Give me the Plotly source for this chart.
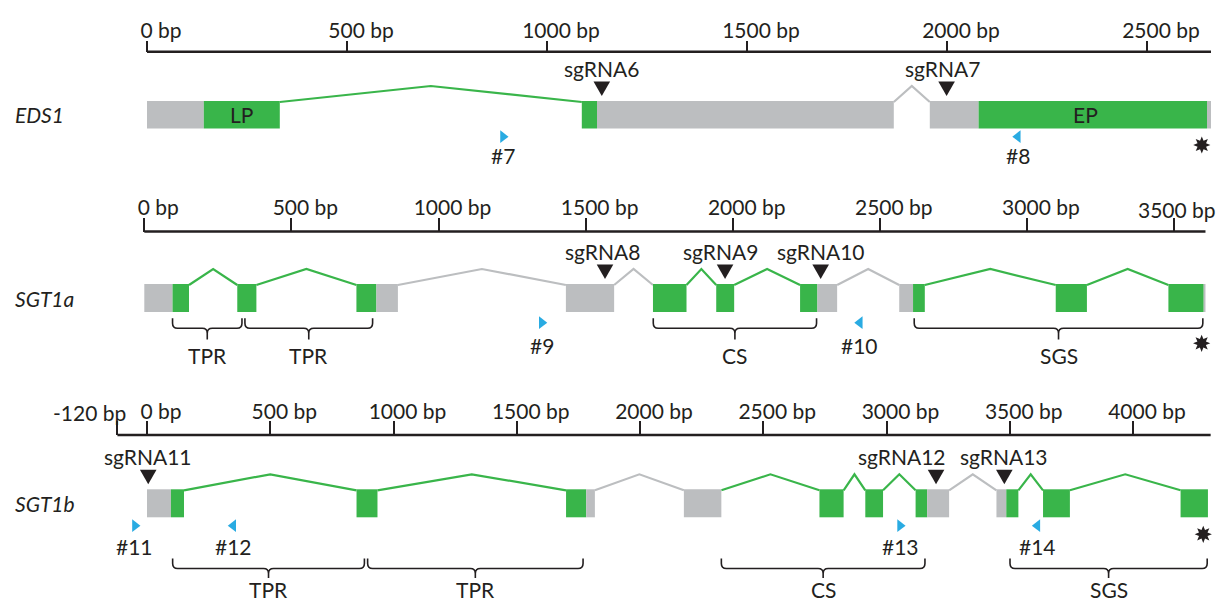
import math
import plotly.graph_objects as go

W, H = 1222, 604
INK = "#231f20"
GREEN = "#39b54a"
GREY = "#bcbec0"
CYAN = "#29abe2"
FONT = "Lato"
FS = 21

# ---------------- EDS1 ----------------
EDS1_AXIS = [0, 2660]
EDS1_TICKS = [0, 500, 1000, 1500, 2000, 2500]
EDS1_BLOCK_START = [0, 142, 1087, 1125, 1957, 2079, 2650]
EDS1_BLOCK_END = [142, 332, 1125, 1867, 2079, 2650, 2660]
EDS1_BLOCK_GREEN = [0, 1, 1, 0, 0, 1, 0]
EDS1_INTRON_GREEN = [1, 0]
EDS1_SGRNA = ["sgRNA6", "sgRNA7"]
EDS1_SGRNA_POS = [1137, 1999]
EDS1_PRIMER = ["#7", "#8"]
EDS1_PRIMER_POS = [890, 2177]
EDS1_PRIMER_FWD = [1, 0]
EDS1_END_MARK = 2637
EDS1_INNER_LABEL = ["LP", "EP"]
EDS1_INNER_LABEL_POS = [237, 2345]

# ---------------- SGT1a ----------------
SGT1A_AXIS = [0, 3607]
SGT1A_TICKS = [0, 500, 1000, 1500, 2000, 2500, 3000, 3500]
SGT1A_BLOCK_START = [0, 96, 316, 721, 789, 1433, 1729, 1944, 2229, 2288, 2566, 2613, 3098, 3481, 3601]
SGT1A_BLOCK_END = [96, 152, 381, 789, 862, 1597, 1843, 2005, 2288, 2355, 2613, 2653, 3204, 3601, 3607]
SGT1A_BLOCK_GREEN = [0, 1, 1, 1, 0, 0, 1, 1, 1, 0, 0, 1, 1, 1, 0]
SGT1A_INTRON_GREEN = [1, 1, 0, 0, 1, 1, 0, 1, 1]
SGT1A_SGRNA = ["sgRNA8", "sgRNA9", "sgRNA10"]
SGT1A_SGRNA_POS = [1566, 1974, 2299]
SGT1A_PRIMER = ["#9", "#10"]
SGT1A_PRIMER_POS = [1351, 2432]
SGT1A_PRIMER_FWD = [1, 0]
SGT1A_END_MARK = 3594
SGT1A_DOMAIN = ["TPR", "TPR", "CS", "SGS"]
SGT1A_DOMAIN_START = [96, 342, 1730, 2617]
SGT1A_DOMAIN_END = [332, 776, 2285, 3598]

# ---------------- SGT1b ----------------
SGT1B_AXIS = [-120, 4315]
SGT1B_TICKS = [-120, 0, 500, 1000, 1500, 2000, 2500, 3000, 3500, 4000]
SGT1B_BLOCK_START = [0, 97, 850, 1700, 1782, 2178, 2728, 2914, 3118, 3165, 3446, 3486, 3635, 4193]
SGT1B_BLOCK_END = [97, 150, 935, 1782, 1817, 2330, 2826, 2986, 3165, 3254, 3486, 3535, 3744, 4304]
SGT1B_BLOCK_GREEN = [0, 1, 1, 1, 0, 0, 1, 1, 1, 0, 0, 1, 1, 1]
SGT1B_INTRON_GREEN = [1, 1, 0, 1, 1, 1, 0, 1, 1]
SGT1B_SGRNA = ["sgRNA11", "sgRNA12", "sgRNA13"]
SGT1B_SGRNA_POS = [5, 3201, 3478]
SGT1B_PRIMER = ["#11", "#12", "#13", "#14"]
SGT1B_PRIMER_POS = [-49, 350, 3055, 3612]
SGT1B_PRIMER_FWD = [1, 0, 1, 0]
SGT1B_END_MARK = 4285
SGT1B_DOMAIN = ["TPR", "TPR", "CS", "SGS"]
SGT1B_DOMAIN_START = [104, 895, 2330, 3501]
SGT1B_DOMAIN_END = [882, 1769, 3156, 4301]

# ---------------- panel geometry (pixels) ----------------
PANELS = [
    dict(name="EDS1", axis=EDS1_AXIS, ticks=EDS1_TICKS,
         bs=EDS1_BLOCK_START, be=EDS1_BLOCK_END, bg=EDS1_BLOCK_GREEN, ig=EDS1_INTRON_GREEN,
         sg=EDS1_SGRNA, sgp=EDS1_SGRNA_POS, pr=EDS1_PRIMER, prp=EDS1_PRIMER_POS, prf=EDS1_PRIMER_FWD,
         end=EDS1_END_MARK, inner=EDS1_INNER_LABEL, innerp=EDS1_INNER_LABEL_POS,
         dom=[], ds=[], de=[], caption_fix={},
         origin=147.0, scale=0.4, axis_y=51.7, ticklen=11,
         bar=(101.0, 128.5), primer_y=136.7, primer_label_y=155.0, end_y=145.0),
    dict(name="SGT1a", axis=SGT1A_AXIS, ticks=SGT1A_TICKS,
         bs=SGT1A_BLOCK_START, be=SGT1A_BLOCK_END, bg=SGT1A_BLOCK_GREEN, ig=SGT1A_INTRON_GREEN,
         sg=SGT1A_SGRNA, sgp=SGT1A_SGRNA_POS, pr=SGT1A_PRIMER, prp=SGT1A_PRIMER_POS, prf=SGT1A_PRIMER_FWD,
         end=SGT1A_END_MARK, inner=[], innerp=[],
         dom=SGT1A_DOMAIN, ds=SGT1A_DOMAIN_START, de=SGT1A_DOMAIN_END,
         caption_fix={3500: ("center", 3)},
         origin=144.3, scale=0.2942, axis_y=231.5, ticklen=14,
         bar=(284.0, 312.0), primer_y=322.7, primer_label_y=345.0, end_y=343.3,
         brace=(318.3, 328.3, 339.5), brace_label_y=355.5),
    dict(name="SGT1b", axis=SGT1B_AXIS, ticks=SGT1B_TICKS,
         bs=SGT1B_BLOCK_START, be=SGT1B_BLOCK_END, bg=SGT1B_BLOCK_GREEN, ig=SGT1B_INTRON_GREEN,
         sg=SGT1B_SGRNA, sgp=SGT1B_SGRNA_POS, pr=SGT1B_PRIMER, prp=SGT1B_PRIMER_POS, prf=SGT1B_PRIMER_FWD,
         end=SGT1B_END_MARK, inner=[], innerp=[],
         dom=SGT1B_DOMAIN, ds=SGT1B_DOMAIN_START, de=SGT1B_DOMAIN_END,
         caption_fix={-120: ("right", 11)},
         origin=147.0, scale=0.2465, axis_y=435.0, ticklen=14,
         bar=(489.3, 517.3), primer_y=525.7, primer_label_y=546.3, end_y=534.3,
         brace=(558.5, 568.5, 578.0), brace_label_y=589.0),
]

# small horizontal nudges (px) for crowded sgRNA captions
SGRNA_LABEL_NUDGE = {"sgRNA7": -4, "sgRNA8": -3, "sgRNA9": -5, "sgRNA12": -34}

INTRON_RISE = 15
TRI_HALF_W, TRI_H, TRI_GAP = 8.3, 14.5, 5
TICK_LABEL_GAP = 22.5  # axis line to centre of tick captions


def fmt(v):
    return f"{v:.3f}"


fig = go.Figure()
shapes, annotations = [], []
layout_axes = {}

for i, p in enumerate(PANELS):
    ax = "x" if i == 0 else f"x{i + 1}"
    key = "xaxis" if i == 0 else f"xaxis{i + 1}"
    s = p["scale"]
    top, bot = p["bar"]

    def px2bp(d, s=s):
        return d / s

    fix = p["caption_fix"]
    ticktext = [("" if t in fix else f"{t} bp") for t in p["ticks"]]
    layout_axes[key] = dict(
        domain=[0, 1], range=[-p["origin"] / s, (W - p["origin"]) / s],
        anchor="free", position=1 - p["axis_y"] / H, side="top",
        showline=False, showgrid=False, zeroline=False, fixedrange=True,
        ticks="outside", ticklen=p["ticklen"], tickwidth=2, tickcolor=INK,
        tickvals=p["ticks"], ticktext=ticktext, ticklabelshift=14,
        ticklabelstandoff=-6,
        tickfont=dict(family=FONT, size=FS, color=INK),
    )
    # captions that sit against a neighbour or the page edge
    for t, (anchor, shift) in fix.items():
        annotations.append(dict(x=t, y=p["axis_y"] - TICK_LABEL_GAP, xref=ax, yref="y",
                                text=f"{t} bp", showarrow=False, xanchor=anchor,
                                yanchor="middle", xshift=shift,
                                font=dict(family=FONT, size=FS, color=INK)))

    # scale bar line
    shapes.append(dict(type="line", xref=ax, yref="y", x0=p["axis"][0], x1=p["axis"][1],
                       y0=p["axis_y"], y1=p["axis_y"], line=dict(color=INK, width=2.6)))

    # introns: a peaked connector between consecutive separated blocks
    k = 0
    for a in range(len(p["bs"]) - 1):
        e, n = p["be"][a], p["bs"][a + 1]
        if n > e:
            col = GREEN if p["ig"][k] else GREY
            fig.add_trace(go.Scatter(x=[e, (e + n) / 2, n], y=[top + 1, top - INTRON_RISE, top + 1],
                                     xaxis=ax, yaxis="y", mode="lines",
                                     line=dict(color=col, width=2.2), hoverinfo="skip",
                                     showlegend=False))
            k += 1

    # exon blocks
    for b0, b1, g in zip(p["bs"], p["be"], p["bg"]):
        shapes.append(dict(type="rect", xref=ax, yref="y", x0=b0, x1=b1, y0=top, y1=bot,
                           fillcolor=GREEN if g else GREY, line=dict(width=0)))

    # labels printed inside blocks
    for lab, pos in zip(p["inner"], p["innerp"]):
        annotations.append(dict(x=pos, y=(top + bot) / 2, xref=ax, yref="y", text=lab,
                                showarrow=False, font=dict(family=FONT, size=FS, color=INK)))

    # sgRNA target sites
    for lab, pos in zip(p["sg"], p["sgp"]):
        tip = top - TRI_GAP
        tt = tip - TRI_H
        hw = px2bp(TRI_HALF_W)
        shapes.append(dict(type="path", xref=ax, yref="y",
                           path=f"M{fmt(pos - hw)},{fmt(tt)} L{fmt(pos + hw)},{fmt(tt)} L{fmt(pos)},{fmt(tip)} Z",
                           fillcolor=INK, line=dict(width=0)))
        annotations.append(dict(x=pos, y=tt - 13, xref=ax, yref="y", text=lab, showarrow=False,
                                xshift=SGRNA_LABEL_NUDGE.get(lab, 0), yanchor="middle",
                                font=dict(family=FONT, size=FS, color=INK)))

    # primers
    fig.add_trace(go.Scatter(
        x=p["prp"], y=[p["primer_y"]] * len(p["prp"]), xaxis=ax, yaxis="y", mode="markers",
        marker=dict(symbol=["triangle-right" if f else "triangle-left" for f in p["prf"]],
                    size=11, color=CYAN, line=dict(width=0)),
        cliponaxis=False, hoverinfo="skip", showlegend=False))
    for lab, pos in zip(p["pr"], p["prp"]):
        annotations.append(dict(x=pos, y=p["primer_label_y"], xref=ax, yref="y", text=lab,
                                showarrow=False, yanchor="middle",
                                font=dict(family=FONT, size=FS, color=INK)))

    # eight-pointed end mark
    pts = []
    for j in range(16):
        r = 8.6 if j % 2 == 0 else 4.6
        a = math.pi / 2 + j * math.pi / 8
        pts.append((p["end"] + px2bp(r * math.cos(a)), p["end_y"] - r * math.sin(a)))
    path = "M" + " L".join(f"{fmt(x)},{fmt(y)}" for x, y in pts) + " Z"
    shapes.append(dict(type="path", xref=ax, yref="y", path=path, fillcolor=INK, line=dict(width=0)))

    # domain braces
    if p["dom"]:
        bt, bm, btip = p["brace"]
        r = 5
        rb = px2bp(5)
        for lab, d0, d1 in zip(p["dom"], p["ds"], p["de"]):
            xm = (d0 + d1) / 2
            path = (f"M{fmt(d0)},{bt} L{fmt(d0)},{bm - r} Q{fmt(d0)},{bm} {fmt(d0 + rb)},{bm} "
                    f"L{fmt(xm - rb)},{bm} Q{fmt(xm)},{bm} {fmt(xm)},{bm + r} L{fmt(xm)},{btip} "
                    f"M{fmt(xm)},{bm + r} Q{fmt(xm)},{bm} {fmt(xm + rb)},{bm} "
                    f"L{fmt(d1 - rb)},{bm} Q{fmt(d1)},{bm} {fmt(d1)},{bm - r} L{fmt(d1)},{bt}")
            shapes.append(dict(type="path", xref=ax, yref="y", path=path,
                               line=dict(color=INK, width=1.6)))
            annotations.append(dict(x=xm, y=p["brace_label_y"], xref=ax, yref="y", text=lab,
                                    showarrow=False, yanchor="middle", borderpad=0,
                                    font=dict(family=FONT, size=FS, color=INK)))

    # gene name
    annotations.append(dict(x=13 / W, y=(top + bot) / 2, xref="paper", yref="y",
                            text=f"<i>{p['name']}</i>", showarrow=False, xanchor="left",
                            yanchor="middle", font=dict(family=FONT, size=FS, color=INK)))

fig.update_layout(
    width=W, height=H, margin=dict(l=0, r=0, t=0, b=0),
    paper_bgcolor="white", plot_bgcolor="rgba(0,0,0,0)",
    yaxis=dict(domain=[0, 1], range=[H, 0], visible=False, fixedrange=True),
    shapes=shapes, annotations=annotations, showlegend=False,
    **layout_axes,
)
fig.write_html("out.html")
